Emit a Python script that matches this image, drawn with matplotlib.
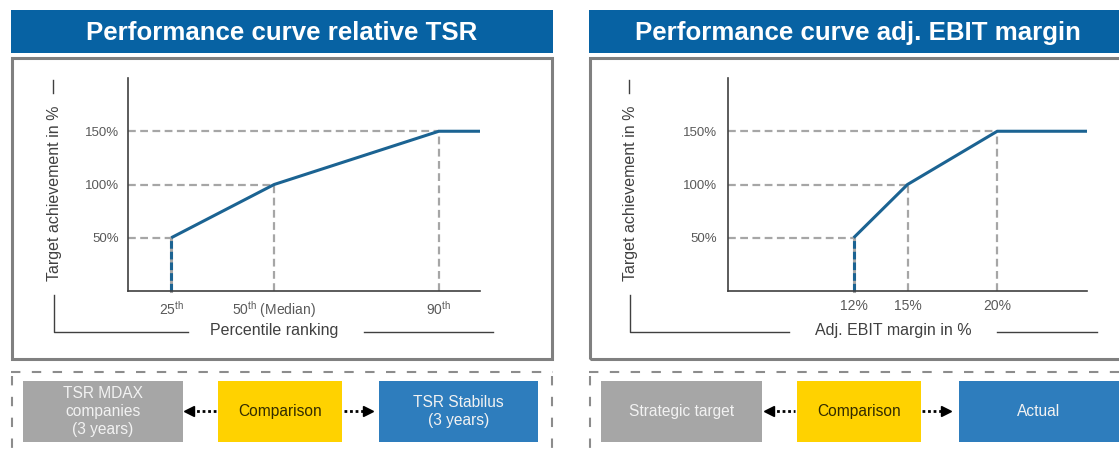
import matplotlib.pyplot as plt
from matplotlib.patches import Rectangle
from matplotlib.lines import Line2D

plt.rcParams['font.family'] = ['Liberation Sans', 'DejaVu Sans']
plt.rcParams['mathtext.fontset'] = 'custom'
plt.rcParams['mathtext.rm'] = 'Liberation Sans'
plt.rcParams['mathtext.it'] = 'Liberation Sans:italic'
plt.rcParams['mathtext.bf'] = 'Liberation Sans:bold'

# data
tsr_x = [25, 50, 90, 100]
tsr_y = [50, 100, 150, 150]
tsr_ticks = [25, 50, 90]
tsr_ticklabels = [r'25$^{\mathrm{th}}$', r'50$^{\mathrm{th}}$ (Median)', r'90$^{\mathrm{th}}$']

ebit_x = [12, 15, 20, 25]
ebit_y = [50, 100, 150, 150]
ebit_ticks = [12, 15, 20]
ebit_ticklabels = ['12%', '15%', '20%']

y_ticks = [50, 100, 150]
y_ticklabels = ['50%', '100%', '150%']

titles = ['Performance curve relative TSR', 'Performance curve adj. EBIT margin']
xlabels = ['Percentile ranking', 'Adj. EBIT margin in %']
ylabel = 'Target achievement in %'
left_boxes = ['TSR MDAX\ncompanies\n(3 years)', 'Strategic target']
mid_box = 'Comparison'
right_boxes = ['TSR Stabilus\n(3 years)', 'Actual']

W, H = 1119, 451
BLUE_T = '#0762a3'
LINE = '#1b6392'
GRID = '#a6a6a6'
DARK = '#404040'
TICK = '#595959'

fig = plt.figure(figsize=(W / 100, H / 100), dpi=100)


def fx(x):
    return x / W


def fy(y):
    return 1 - y / H


def rect(x0, y0, x1, y1, **kw):
    r = Rectangle((fx(x0), fy(y1)), (x1 - x0) / W, (y1 - y0) / H,
                  transform=fig.transFigure, **kw)
    fig.add_artist(r)


def line(xs, ys, **kw):
    fig.add_artist(Line2D([fx(v) for v in xs], [fy(v) for v in ys],
                          transform=fig.transFigure, **kw))


def text(x, y, s, **kw):
    fig.text(fx(x), fy(y), s, ha='center', va='center', **kw)


# panel geometry in pixels
panels = [
    dict(x0=11, x1=553, ax0=128, ax1=480, ylx=55, brk=(54, 188, 274, 364, 493),
         data=(tsr_x, tsr_y, tsr_ticks, tsr_ticklabels, (14.5, 100)), ypad=6.5,
         boxes=((23, 183), (218, 342), (379, 538)),
         arrows=((185, 216), (344, 372))),
    dict(x0=589, x1=1135, ax0=728, ax1=1087, ylx=631, brk=(630, 789, 893, 997, 1097),
         data=(ebit_x, ebit_y, ebit_ticks, ebit_ticklabels, (5, 25)), ypad=8,
         boxes=((601, 762), (797, 921), (959, 1135)),
         arrows=((765, 795), (922, 950))),
]

for i, p in enumerate(panels):
    # title bar
    rect(p['x0'], 10, p['x1'], 53, facecolor=BLUE_T, edgecolor='none')
    text((p['x0'] + min(p['x1'], 1127)) / 2, 33, titles[i],
         color='white', fontsize=18.6, fontweight='bold')
    # chart frame
    rect(p['x0'] + 1, 58, p['x1'] - 1, 359, facecolor='none', edgecolor='#808080', linewidth=2.2)

    # axes
    ax = fig.add_axes([fx(p['ax0']), fy(291), (p['ax1'] - p['ax0']) / W, (291 - 78) / H])
    xs, ys, ticks, ticklabels, xlim = p['data']
    ax.set_xlim(*xlim)
    ax.set_ylim(0, 200)
    for s in ['top', 'right']:
        ax.spines[s].set_visible(False)
    for s in ['left', 'bottom']:
        ax.spines[s].set_color(DARK)
        ax.spines[s].set_linewidth(1.2)
    ax.set_xticks(ticks)
    ax.set_xticklabels(ticklabels)
    ax.set_yticks(y_ticks)
    ax.set_yticklabels(y_ticklabels)
    ax.tick_params(axis='x', length=0, pad=6, labelsize=10, labelcolor=TICK)
    ax.tick_params(axis='y', length=0, pad=p['ypad'], labelsize=9.5, labelcolor=TICK)

    dash = (0, (3.5, 2))
    for xv, yv in zip(xs[:3], ys[:3]):
        ax.plot([xlim[0], xv], [yv, yv], color=GRID, lw=1.6, linestyle=dash, clip_on=False)
    for xv, yv in zip(xs[1:3], ys[1:3]):
        ax.plot([xv, xv], [0, yv], color=GRID, lw=1.6, linestyle=dash, clip_on=False)
    ax.plot([xs[0], xs[0]], [0, ys[0]], color=GRID, lw=2.2, clip_on=False)
    ax.plot([xs[0], xs[0]], [0, ys[0]], color=LINE, lw=2.2, linestyle=(0, (2.5, 1)), clip_on=False)
    ax.plot(xs, ys, color=LINE, lw=2.2, solid_capstyle='butt', clip_on=False)

    # y label and bracket
    text(p['ylx'], 193, ylabel, rotation=90, fontsize=11.5, color=DARK)
    line([p['ylx'] - 2, p['ylx'] - 2], [80, 93], color=DARK, lw=1)
    b0, b1, bc, b2, b3 = p['brk']
    line([b0, b0, b1], [295, 332, 332], color=DARK, lw=1)
    line([b2, b3], [332, 332], color=DARK, lw=1)
    text(bc, 331, xlabels[i], fontsize=11.5, color=DARK)

    # dashed comparison frame
    dfr = dict(color='#8c8c8c', lw=1.5, linestyle=(0, (4.5, 5.5)))
    line([p['x0'], p['x1']], [372, 372], **dfr)
    line([p['x0'] + 1, p['x0'] + 1], [376, 455], **dfr)
    if i == 0:
        line([p['x1'] - 1, p['x1'] - 1], [376, 455], **dfr)

    (g0, g1), (y0, y1), (c0, c1) = p['boxes']
    rect(g0, 381, g1, 442, facecolor='#a6a6a6', edgecolor='none')
    rect(y0, 381, y1, 442, facecolor='#ffd200', edgecolor='none')
    rect(c0, 381, c1, 442, facecolor='#2e7dbd', edgecolor='none')
    text((g0 + g1) / 2, 411.5, left_boxes[i], color='#f2f2f2', fontsize=11.2, linespacing=1.25)
    text((y0 + y1) / 2, 411.5, mid_box, color='#332c00', fontsize=11.2)
    text((c0 + min(c1, 1119)) / 2, 411.5, right_boxes[i], color='#f2f2f2', fontsize=11.2,
         linespacing=1.25)

    (la, lb), (ra, rb) = p['arrows']
    line([la + 6, lb], [411, 411], color='black', lw=2, linestyle=(0, (1, 1)))
    line([la + 4], [411], color='black', marker='<', markersize=6.5, linestyle='none')
    line([ra, rb - 6], [411, 411], color='black', lw=2, linestyle=(0, (1, 1)))
    line([rb - 4], [411], color='black', marker='>', markersize=6.5, linestyle='none')

fig.savefig('out.png', dpi=100)
